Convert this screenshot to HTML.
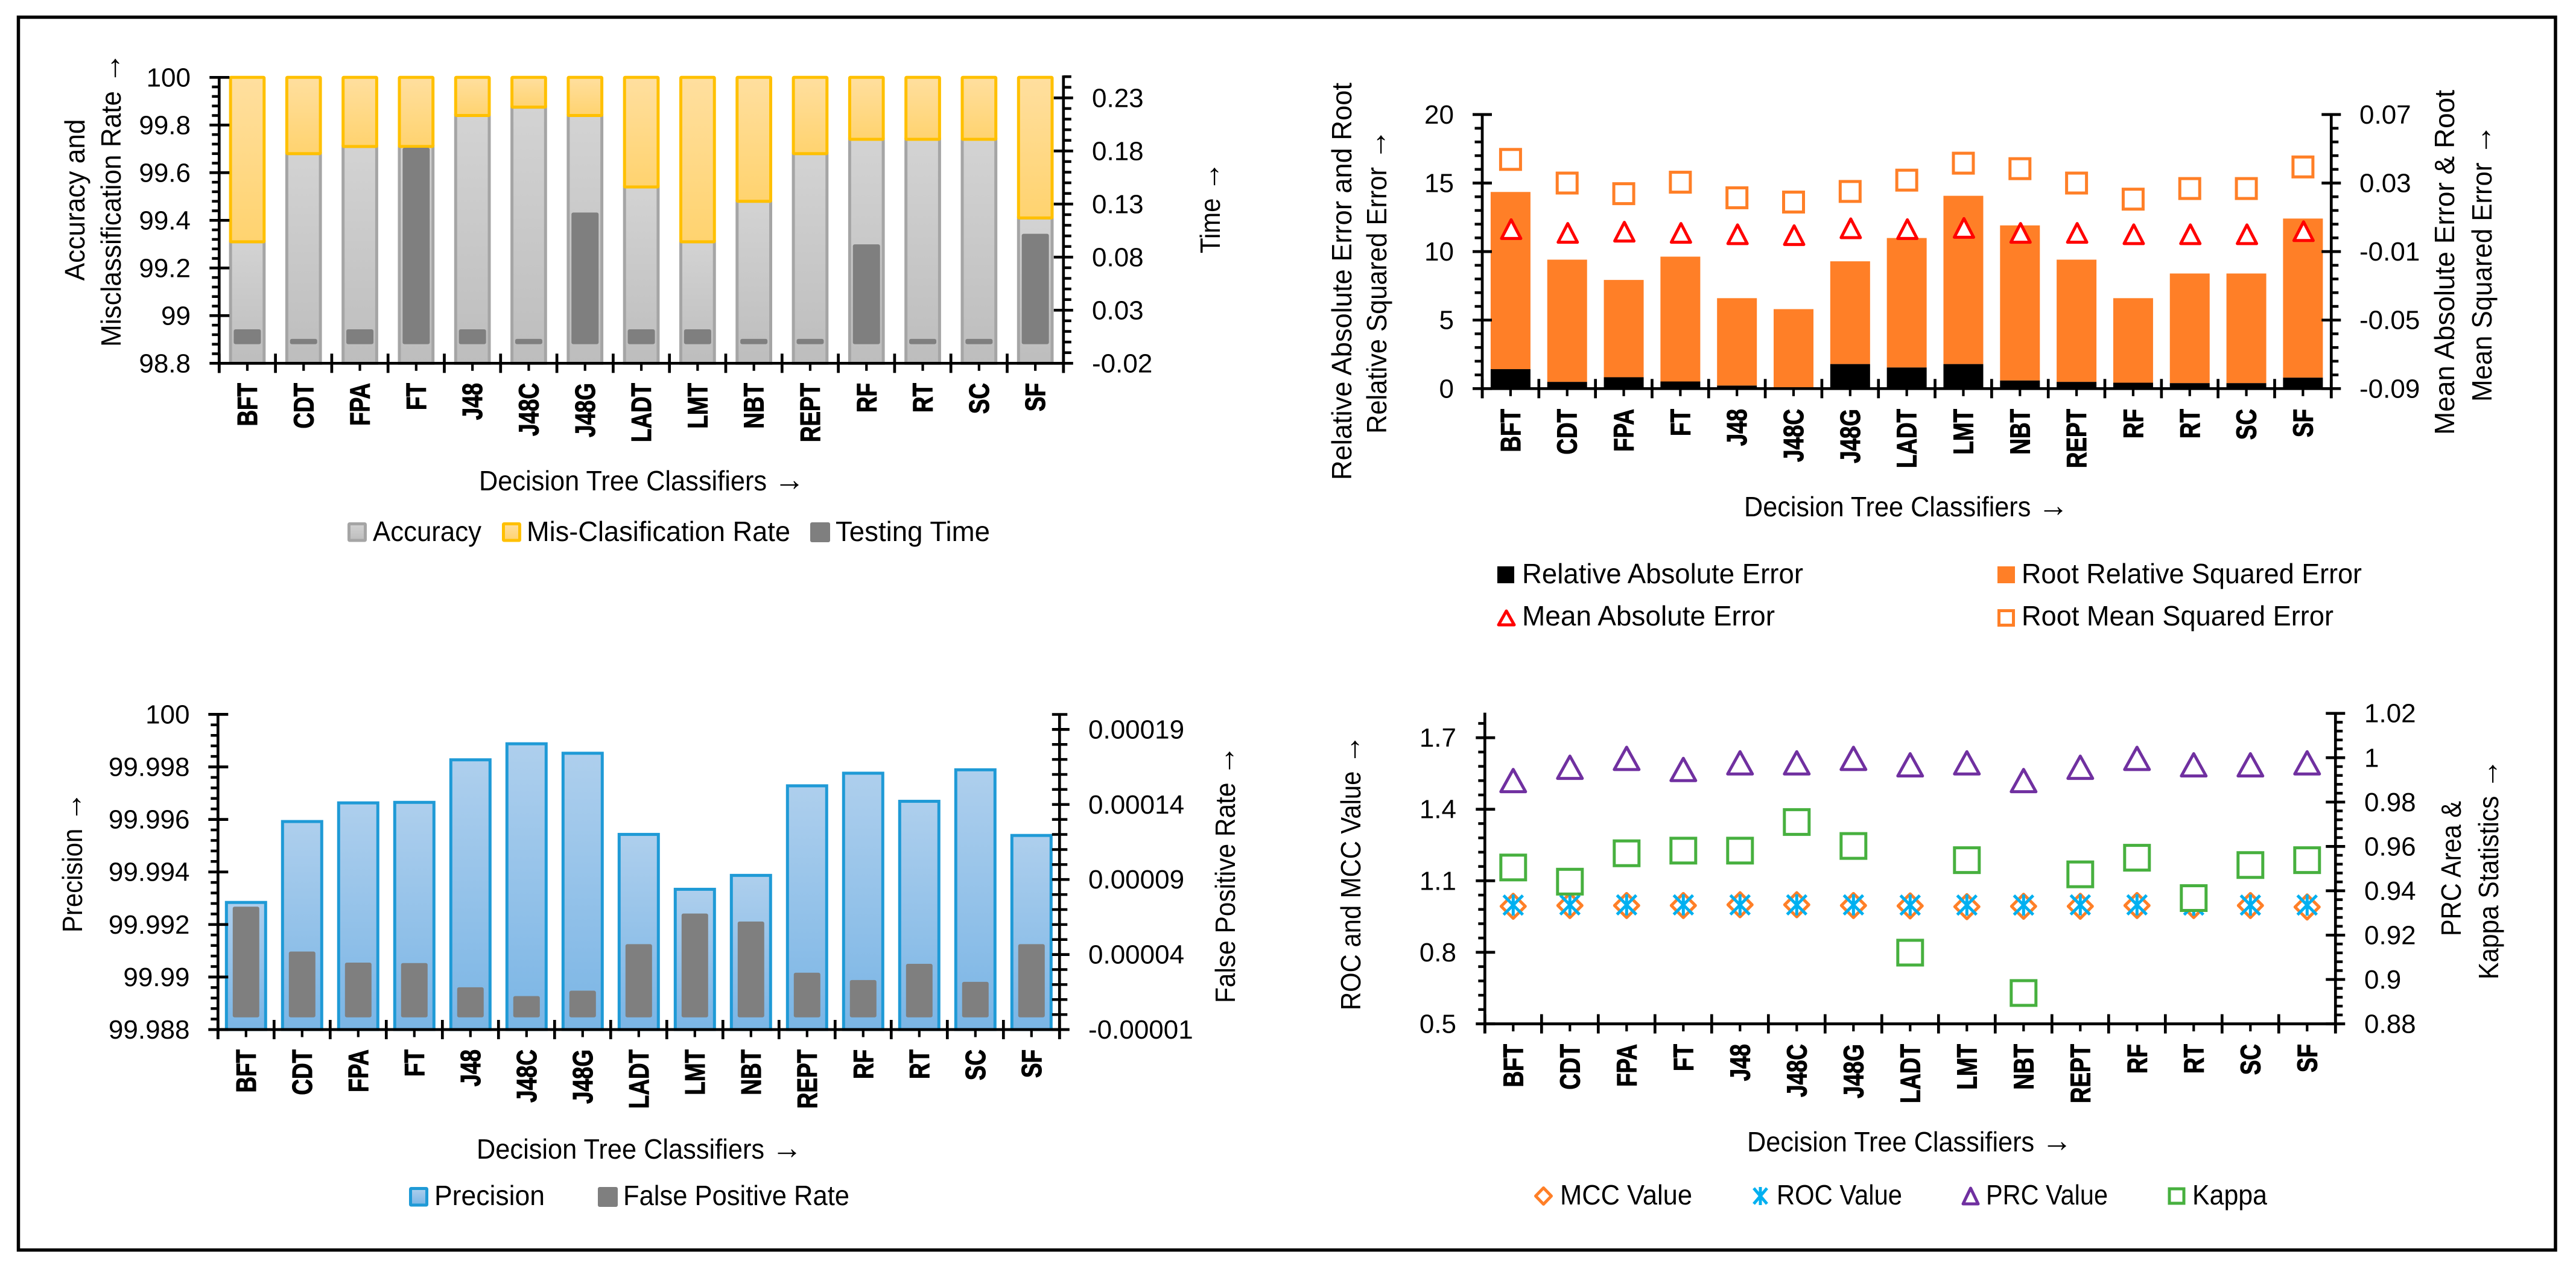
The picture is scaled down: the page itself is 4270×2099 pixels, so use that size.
<!DOCTYPE html>
<html lang="en">
<head>
<meta charset="utf-8">
<title>Decision Tree Classifier Comparison Charts</title>
<style>
html,body{margin:0;padding:0;background:#fff;}
svg{display:block;}
text{font-family:"Liberation Sans",sans-serif;fill:#000;font-size:46px;}
tspan.arrow{font-size:54px;}
</style>
</head>
<body>
<svg id="fig" xmlns="http://www.w3.org/2000/svg" width="4270" height="2099" viewBox="0 0 4270 2099">
<defs>
<linearGradient id="accGrad" x1="0" y1="0" x2="0" y2="1"><stop offset="0" stop-color="#d3d3d3"/><stop offset="1" stop-color="#bdbdbd"/></linearGradient>
<linearGradient id="misGrad" x1="0" y1="0" x2="0" y2="1"><stop offset="0" stop-color="#ffdf9f"/><stop offset="1" stop-color="#ffd36f"/></linearGradient>
<linearGradient id="preGrad" x1="0" y1="0" x2="0" y2="1"><stop offset="0" stop-color="#aecfed"/><stop offset="1" stop-color="#7ab5e5"/></linearGradient>
</defs>
<rect width="4270" height="2099" fill="#fff"/>
<rect x="30.5" y="28.5" width="4205.5" height="2044" fill="none" stroke="#000" stroke-width="5.5"/>

<g id="chart1">
<g id="c1marks"></g>
<g id="c1axes"></g>
<text transform="translate(140,465.5) rotate(-90)" textLength="268" lengthAdjust="spacingAndGlyphs">Accuracy and</text>
<text transform="translate(200,575) rotate(-90)" textLength="488" lengthAdjust="spacingAndGlyphs">Misclassification Rate <tspan class="arrow">→</tspan></text>
<text transform="translate(2022,420) rotate(-90)" textLength="152" lengthAdjust="spacingAndGlyphs">Time <tspan class="arrow">→</tspan></text>
<text x="794" y="813" textLength="540" lengthAdjust="spacingAndGlyphs">Decision Tree Classifiers <tspan class="arrow">→</tspan></text>
<g>
<rect x="578.5" y="868.5" width="27" height="27.5" rx="1" fill="url(#accGrad)" stroke="#a5a5a5" stroke-width="5"/>
<text x="618" y="897" textLength="180" lengthAdjust="spacingAndGlyphs">Accuracy</text>
<rect x="834.5" y="868.5" width="27" height="27.5" rx="1" fill="url(#misGrad)" stroke="#ffc000" stroke-width="5"/>
<text x="873" y="897" textLength="437" lengthAdjust="spacingAndGlyphs">Mis-Clasification Rate</text>
<rect x="1343" y="866" width="33" height="33" rx="3" fill="#7f7f7f"/>
<text x="1385" y="897" textLength="256" lengthAdjust="spacingAndGlyphs">Testing Time</text>
</g>
</g>

<g id="chart2">
<g id="c2marks"></g>
<g id="c2axes"></g>
<text transform="translate(2240,796) rotate(-90)" textLength="659" lengthAdjust="spacingAndGlyphs">Relative Absolute Error and Root</text>
<text transform="translate(2298,719) rotate(-90)" textLength="505" lengthAdjust="spacingAndGlyphs">Relative Squared Error <tspan class="arrow">→</tspan></text>
<text transform="translate(4068,721) rotate(-90)" textLength="572" lengthAdjust="spacingAndGlyphs">Mean Absolute Error &amp; Root</text>
<text transform="translate(4130,666) rotate(-90)" textLength="460" lengthAdjust="spacingAndGlyphs">Mean Squared Error <tspan class="arrow">→</tspan></text>
<text x="2891" y="856" textLength="538" lengthAdjust="spacingAndGlyphs">Decision Tree Classifiers <tspan class="arrow">→</tspan></text>
<g>
<rect x="2482" y="939" width="28" height="28" fill="#000"/>
<text x="2523" y="967" textLength="466" lengthAdjust="spacingAndGlyphs">Relative Absolute Error</text>
<rect x="3311" y="939" width="29" height="28" fill="#ff7f27"/>
<text x="3351" y="967" textLength="564" lengthAdjust="spacingAndGlyphs">Root Relative Squared Error</text>
<polygon points="2497,1013 2510,1036 2484,1036" fill="#fff" stroke="#ff0000" stroke-width="5" stroke-linejoin="round"/>
<text x="2523" y="1037" textLength="419" lengthAdjust="spacingAndGlyphs">Mean Absolute Error</text>
<rect x="3313.5" y="1012.5" width="24" height="24" fill="#fff" stroke="#ff7f27" stroke-width="5"/>
<text x="3351" y="1037" textLength="517" lengthAdjust="spacingAndGlyphs">Root Mean Squared Error</text>
</g>
</g>

<g id="chart3">
<g id="c3marks"></g>
<g id="c3axes"></g>
<text transform="translate(136,1546) rotate(-90)" textLength="233" lengthAdjust="spacingAndGlyphs">Precision <tspan class="arrow">→</tspan></text>
<text transform="translate(2047,1663) rotate(-90)" textLength="427" lengthAdjust="spacingAndGlyphs">False Positive Rate <tspan class="arrow">→</tspan></text>
<text x="790" y="1921" textLength="540" lengthAdjust="spacingAndGlyphs">Decision Tree Classifiers <tspan class="arrow">→</tspan></text>
<g>
<rect x="680.5" y="1970.5" width="27" height="27.5" rx="1" fill="url(#preGrad)" stroke="#1f9ad6" stroke-width="5"/>
<text x="720" y="1998" textLength="183" lengthAdjust="spacingAndGlyphs">Precision</text>
<rect x="991" y="1968" width="33" height="33" rx="3" fill="#7f7f7f"/>
<text x="1033" y="1998" textLength="375" lengthAdjust="spacingAndGlyphs">False Positive Rate</text>
</g>
</g>

<g id="chart4">
<g id="c4marks"></g>
<g id="c4axes"></g>
<text transform="translate(2255,1675) rotate(-90)" textLength="457" lengthAdjust="spacingAndGlyphs">ROC and MCC Value <tspan class="arrow">→</tspan></text>
<text transform="translate(4079,1552) rotate(-90)" textLength="224" lengthAdjust="spacingAndGlyphs">PRC Area &amp;</text>
<text transform="translate(4141,1624) rotate(-90)" textLength="366" lengthAdjust="spacingAndGlyphs">Kappa Statistics <tspan class="arrow">→</tspan></text>
<text x="2896" y="1909" textLength="539" lengthAdjust="spacingAndGlyphs">Decision Tree Classifiers <tspan class="arrow">→</tspan></text>
<g>
<polygon points="2558.5,1969.5 2571.5,1983 2558.5,1996.5 2545.5,1983" fill="#fff" stroke="#ff7f27" stroke-width="5" stroke-linejoin="round"/>
<text x="2586" y="1997" textLength="219" lengthAdjust="spacingAndGlyphs">MCC Value</text>
<path d="M2907,1970 L2929,1996 M2929,1970 L2907,1996 M2918,1968 L2918,1998" fill="none" stroke="#00b0f0" stroke-width="5"/>
<text x="2945" y="1997" textLength="208" lengthAdjust="spacingAndGlyphs">ROC Value</text>
<polygon points="3266.5,1970 3279,1996 3254,1996" fill="#fff" stroke="#7030a0" stroke-width="5" stroke-linejoin="round"/>
<text x="3292" y="1997" textLength="202" lengthAdjust="spacingAndGlyphs">PRC Value</text>
<rect x="3596" y="1971" width="24" height="24" fill="#fff" stroke="#47b03f" stroke-width="5"/>
<text x="3634" y="1997" textLength="124" lengthAdjust="spacingAndGlyphs">Kappa</text>
</g>
</g>
</svg>

<script>
// ---- shared categories ----
const categories = ['BFT','CDT','FPA','FT','J48','J48C','J48G','LADT','LMT','NBT','REPT','RF','RT','SC','SF'];

// ---- chart 1: accuracy / misclassification / testing time ----
const accuracyValues = [99.31,99.68,99.71,99.71,99.84,99.875,99.84,99.54,99.31,99.48,99.68,99.74,99.74,99.74,99.41];
const misclassificationValues = [0.69,0.32,0.29,0.29,0.16,0.125,0.16,0.46,0.69,0.52,0.32,0.26,0.26,0.26,0.59];
const testingTimeValues = [0.012,0.003,0.012,0.183,0.012,0.003,0.122,0.012,0.012,0.003,0.003,0.092,0.003,0.003,0.102];
const accuracyTicks = ['98.8','99','99.2','99.4','99.6','99.8','100'];
const timeTicks = ['-0.02','0.03','0.08','0.13','0.18','0.23'];

// ---- chart 2: error measures ----
const relativeAbsoluteError = [1.42,0.49,0.83,0.52,0.22,0.1,1.79,1.54,1.79,0.59,0.49,0.43,0.4,0.4,0.8];
const rootRelativeSquaredError = [12.93,8.92,7.1,9.11,6.38,5.7,7.5,9.45,12.28,11.32,8.92,6.17,8.0,8.0,11.61];
const meanAbsoluteError = [0.0031,0.0009,0.0016,0.0009,0.0001,-0.0004,0.0036,0.0031,0.0038,0.0009,0.0009,0.0001,0.0001,0.0001,0.0019];
const rootMeanSquaredError = [0.0438,0.03,0.0238,0.0305,0.0214,0.0189,0.0251,0.0317,0.0416,0.0384,0.03,0.0206,0.0268,0.0268,0.0394];
const errorTicks = ['0','5','10','15','20'];
const meanErrorTicks = ['-0.09','-0.05','-0.01','0.03','0.07'];

// ---- chart 3: precision / false positive rate ----
const precisionValues = [99.99284,99.99592,99.99663,99.99665,99.99827,99.99888,99.99852,99.99543,99.99334,99.99387,99.99728,99.99776,99.99669,99.99789,99.99539];
const falsePositiveValues = [0.0000719,0.000042,0.0000346,0.0000343,0.0000182,0.0000123,0.0000159,0.0000469,0.0000673,0.000062,0.0000279,0.000023,0.0000338,0.0000218,0.0000469];
const precisionTicks = ['99.988','99.99','99.992','99.994','99.996','99.998','100'];
const falsePositiveTicks = ['-0.00001','0.00004','0.00009','0.00014','0.00019'];

// ---- chart 4: MCC / ROC / PRC / Kappa ----
const mccValues = [0.993,0.9963,0.9963,0.9963,0.9995,0.9995,0.9963,0.9947,0.9915,0.993,0.993,0.9963,0.9963,0.9963,0.99];
const rocValues = [0.998,0.999,0.999,0.999,0.999,0.999,0.999,0.998,0.998,0.998,0.999,0.999,0.998,0.998,0.998];
const prcValues = [0.9897,0.9957,0.9997,0.9947,0.9977,0.9977,0.9997,0.9968,0.9977,0.9897,0.9957,0.9997,0.9968,0.9968,0.9977];
const kappaValues = [0.9505,0.9441,0.9569,0.9581,0.9581,0.971,0.9602,0.9121,0.9538,0.8939,0.9474,0.9549,0.9367,0.9516,0.9538];
const rocMccTicks = ['0.5','0.8','1.1','1.4','1.7'];
const prcKappaTicks = ['0.88','0.9','0.92','0.94','0.96','0.98','1','1.02'];

const NS = 'http://www.w3.org/2000/svg';
function mk(tag, geom, parent){
  const el = document.createElementNS(NS, tag);
  for (const k in geom) el.setAttribute(k, geom[k]);
  parent.appendChild(el);
  return el;
}
function linear(domainMin, pxMin, pxPerUnit){ return v => pxMin - (v - domainMin) * pxPerUnit; }

function drawAxis(g, cfg, name){
  const side = cfg.side === 'left' ? -1 : 1;
  const line = mk('line', {x1:cfg.x, x2:cfg.x, y1:cfg.scale(cfg.max)-2, y2:cfg.base+16, stroke:'#000','stroke-width':4.7}, g);
  
  
  const first = parseFloat(cfg.labels[0]), second = parseFloat(cfg.labels[1]);
  const minorStep = (second - first) / cfg.minorPerMajor;
  for (let i = 0; first + i * minorStep <= cfg.max + minorStep * 0.01; i++){
    if (i % cfg.minorPerMajor === 0) continue;
    const y = cfg.scale(first + i * minorStep);
    const t = mk('line', {x1:cfg.x + side * cfg.minorOut, x2:cfg.x - side * cfg.minorIn, y1:y, y2:y, stroke:'#000','stroke-width':4.5}, g);
    
    
  }
  cfg.labels.forEach(lbl => {
    const v = parseFloat(lbl), y = cfg.scale(v);
    const t = mk('line', {x1:cfg.x + side * cfg.majorOut, x2:cfg.x - side * cfg.majorIn, y1:y, y2:y, stroke:'#000','stroke-width':4.7}, g);
    
    
    const tx = mk('text', {x:cfg.labelX, y:y + 15, 'font-size':44, 'text-anchor':cfg.side === 'left' ? 'end' : 'start', style:'font-size:44px'}, g);
    tx.textContent = lbl;
    
    
  });
}
function drawCategoryAxis(g, x0, step, base, labelTop){
  const line = mk('line', {x1:x0, x2:x0 + step * categories.length, y1:base, y2:base, stroke:'#000','stroke-width':4.7}, g);
  
  
  for (let i = 0; i <= categories.length; i++){
    const t = mk('line', {x1:x0 + i * step, x2:x0 + i * step, y1:base - 16, y2:base + 16, stroke:'#000','stroke-width':4.7}, g);
    
    
  }
  categories.forEach((c, i) => {
    const cx = x0 + (i + 0.5) * step;
    const t = mk('line', {x1:cx, x2:cx, y1:base, y2:base + 12.5, stroke:'#000','stroke-width':4.2}, g);
    
    
    const tx = mk('text', {transform:'translate(' + (cx + 16) + ',' + labelTop + ') rotate(-90) scale(0.8,1)', 'text-anchor':'end', 'font-weight':'bold', stroke:'#000', 'stroke-width':1.1}, g);
    tx.textContent = c;
    
    
  });
}

function triangle(g, cx, cy, halfW, halfH, stroke){
  return mk('polygon', {points:cx + ',' + (cy - halfH) + ' ' + (cx + halfW) + ',' + (cy + halfH) + ' ' + (cx - halfW) + ',' + (cy + halfH), fill:'#fff', stroke:stroke, 'stroke-width':5, 'stroke-linejoin':'round'}, g);
}
function square(g, cx, cy, size, stroke){
  return mk('rect', {x:cx - size / 2, y:cy - size / 2, width:size, height:size, fill:'#fff', stroke:stroke, 'stroke-width':5}, g);
}

// ---------- chart 1 ----------
(function(){
  const g = document.getElementById('c1marks'), a = document.getElementById('c1axes');
  const x0 = 363.3, step = 93.3, base = 602.3;
  const yL = linear(98.8, base, 395), yR = linear(-0.02, base, 1760);
  const timeFloor = yR(-0.002);
  categories.forEach((c, i) => {
    const cx = x0 + (i + 0.5) * step, key = c.toLowerCase();
    const acc = mk('rect', {x:cx - 27.85, y:yL(accuracyValues[i]), width:55.7, height:base - yL(accuracyValues[i]), fill:'url(#accGrad)', stroke:'#a5a5a5', 'stroke-width':5}, g);
    
    
    const top = accuracyValues[i] + misclassificationValues[i];
    const mis = mk('rect', {x:cx - 27.85, y:yL(top), width:55.7, height:yL(accuracyValues[i]) - yL(top), rx:1, fill:'url(#misGrad)', stroke:'#ffc000', 'stroke-width':5}, g);
    
    
    const ty = yR(testingTimeValues[i]);
    const tb = mk('rect', {x:cx - 22.5, y:ty, width:45, height:timeFloor - ty, rx:3, fill:'#7f7f7f'}, g);
    
    
  });
  drawCategoryAxis(a, x0, step, base, 635);
  drawAxis(a, {side:'left', x:x0, scale:yL, max:100, base:base, labels:accuracyTicks, minorPerMajor:5, minorOut:12, minorIn:0, majorOut:16, majorIn:17, labelX:316}, 'left-y-axis');
  drawAxis(a, {side:'right', x:1762.8, scale:yR, max:0.25, base:base, labels:timeTicks, minorPerMajor:5, minorOut:13, minorIn:0, majorOut:16, majorIn:16, labelX:1810}, 'right-y-axis');
})();

// ---------- chart 2 ----------
(function(){
  const g = document.getElementById('c2marks'), a = document.getElementById('c2axes');
  const x0 = 2457, step = 93.82, base = 644.3;
  const yL = linear(0, base, 22.72), yR = linear(-0.09, base, 2840);
  categories.forEach((c, i) => {
    const cx = x0 + (i + 0.5) * step, key = c.toLowerCase();
    const rae = relativeAbsoluteError[i], total = rae + rootRelativeSquaredError[i];
    const o = mk('rect', {x:cx - 33, y:yL(total), width:66, height:yL(rae) - yL(total), fill:'#ff7f27'}, g);
    
    
    const b = mk('rect', {x:cx - 33, y:yL(rae), width:66, height:base - yL(rae), fill:'#000'}, g);
    
    
  });
  categories.forEach((c, i) => {
    const cx = x0 + (i + 0.5) * step, key = c.toLowerCase();
    const s = square(g, cx, yR(rootMeanSquaredError[i]), 33, '#ff7f27');
    
    
    const t = triangle(g, cx + 1, yR(meanAbsoluteError[i]), 16, 15.5, '#ff0000');
    
    
  });
  drawCategoryAxis(a, x0, step, base, 678);
  drawAxis(a, {side:'left', x:x0, scale:yL, max:20, base:base, labels:errorTicks, minorPerMajor:5, minorOut:12.5, minorIn:0, majorOut:16, majorIn:16, labelX:2410}, 'left-y-axis');
  drawAxis(a, {side:'right', x:3864.3, scale:yR, max:0.07, base:base, labels:meanErrorTicks, minorPerMajor:5, minorOut:12, minorIn:0, majorOut:16, majorIn:16, labelX:3911}, 'right-y-axis');
})();

// ---------- chart 3 ----------
(function(){
  const g = document.getElementById('c3marks'), a = document.getElementById('c3axes');
  const x0 = 361.3, step = 93, base = 1707;
  const yL = linear(99.988, base, 43550), yR = linear(-0.00001, base, 2488000);
  const fprFloor = yR(-0.00000184);
  categories.forEach((c, i) => {
    const cx = x0 + (i + 0.5) * step, key = c.toLowerCase();
    const py = yL(precisionValues[i]);
    const p = mk('rect', {x:cx - 32.5, y:py, width:65, height:base - py, fill:'url(#preGrad)', stroke:'#1f9ad6', 'stroke-width':5}, g);
    
    
    const fy = yR(falsePositiveValues[i]);
    const f = mk('rect', {x:cx - 22, y:fy, width:44, height:fprFloor - fy, rx:3, fill:'#7f7f7f'}, g);
    
    
  });
  drawCategoryAxis(a, x0, step, base, 1740);
  drawAxis(a, {side:'left', x:x0, scale:yL, max:100, base:base, labels:precisionTicks, minorPerMajor:5, minorOut:12, minorIn:0, majorOut:16, majorIn:17, labelX:314.5}, 'left-y-axis');
  drawAxis(a, {side:'right', x:1756.3, scale:yR, max:0.0002, base:base, labels:falsePositiveTicks, minorPerMajor:5, minorOut:13, minorIn:12.5, majorOut:16.5, majorIn:12.5, labelX:1804}, 'right-y-axis');
})();

// ---------- chart 4 ----------
(function(){
  const g = document.getElementById('c4marks'), a = document.getElementById('c4axes');
  const x0 = 2461.3, step = 94, base = 1697.5;
  const yL = linear(0.5, base, 395.3), yR = linear(0.88, base, 3677);
  categories.forEach((c, i) => {
    const cx = x0 + (i + 0.5) * step, key = c.toLowerCase();
    const my = yL(mccValues[i]), r = 20;
    const d = mk('polygon', {points:cx + ',' + (my - r) + ' ' + (cx + r) + ',' + my + ' ' + cx + ',' + (my + r) + ' ' + (cx - r) + ',' + my, fill:'none', stroke:'#ff7f27', 'stroke-width':5, 'stroke-linejoin':'round'}, g);
    
    
    const ry = yL(rocValues[i]);
    const s = mk('path', {d:'M' + (cx - 16) + ',' + (ry - 16) + ' L' + (cx + 16) + ',' + (ry + 16) + ' M' + (cx + 16) + ',' + (ry - 16) + ' L' + (cx - 16) + ',' + (ry + 16) + ' M' + cx + ',' + (ry - 17.5) + ' L' + cx + ',' + (ry + 17.5), fill:'none', stroke:'#00b0f0', 'stroke-width':5}, g);
    
    
    const t = triangle(g, cx, yR(prcValues[i]), 20.5, 18.5, '#7030a0');
    t.setAttribute('fill', 'none');
    
    
    const k = square(g, cx, yR(kappaValues[i]), 41, '#47b03f');
    
    
  });
  drawCategoryAxis(a, x0, step, base, 1731);
  drawAxis(a, {side:'left', x:x0, scale:yL, max:1.8, base:base, labels:rocMccTicks, minorPerMajor:5, minorOut:11, minorIn:0, majorOut:15, majorIn:17, labelX:2414}, 'left-y-axis');
  drawAxis(a, {side:'right', x:3871.3, scale:yR, max:1.02, base:base, labels:prcKappaTicks, minorPerMajor:5, minorOut:12, minorIn:0, majorOut:16, majorIn:16, labelX:3919}, 'right-y-axis');
})();
</script>
</body>
</html>
